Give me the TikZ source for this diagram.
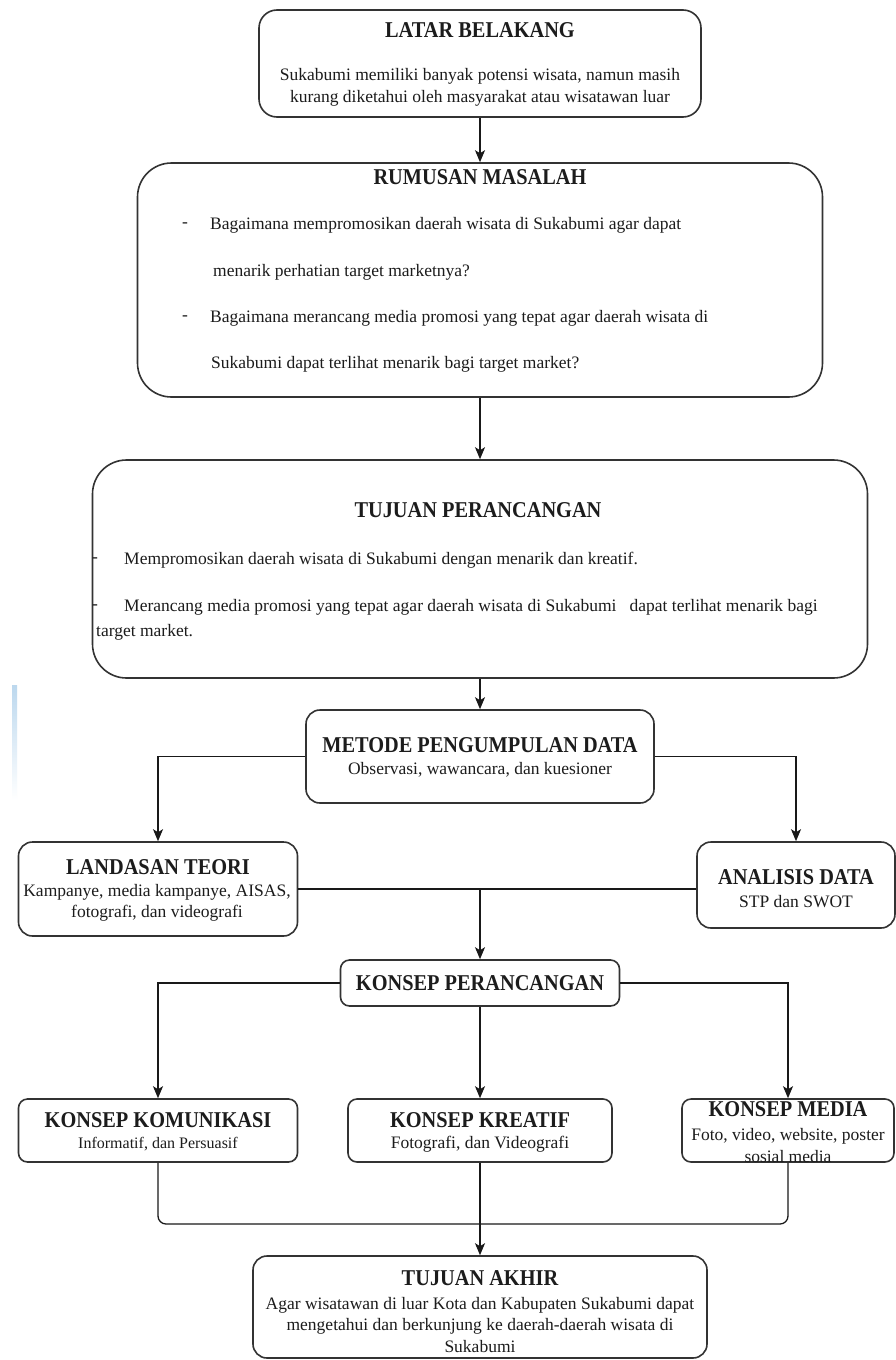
\documentclass[tikz,border=0pt]{standalone}
\usepackage{fontspec}
\setmainfont{Liberation Serif}
\newfontfamily\ttlfont{Liberation Serif}[FakeStretch=0.9]
\usetikzlibrary{arrows.meta,calc}
\definecolor{ink}{HTML}{1C1C1C}
\definecolor{edge}{HTML}{333333}
\definecolor{strip}{HTML}{BCD8EE}
\tikzset{
  box/.style={draw=edge, line width=1.6pt, fill=white, inner sep=0pt},
  ttl/.style={inner sep=0pt, text=ink, font=\ttlfont\fontsize{22.6}{26}\selectfont\bfseries},
  txt/.style={inner sep=0pt, text=ink, font=\fontsize{17.5}{22}\selectfont},
  txtc/.style={txt, align=center},
  conn/.style={draw=black!90, line width=1.3pt},
  arr/.style={conn, -{Stealth[length=12pt,width=10pt,inset=3pt]}}
}
\begin{document}
\begin{tikzpicture}[x=1pt,y=-1pt]
\useasboundingbox (0,0) rectangle (896,1360);
\fill[white] (0,0) rectangle (896,1360);
\shade[top color=strip, bottom color=white] (12,685) rectangle (17,800);

% boxes
\node[box, rounded corners=18pt, minimum width=442pt, minimum height=107pt] (lb) at (480,63.5) {};
\node[box, rounded corners=34pt, minimum width=685pt, minimum height=234pt] (rm) at (480,280) {};
\node[box, rounded corners=34pt, minimum width=775pt, minimum height=218pt] (tp) at (480,569) {};
\node[box, rounded corners=14pt, minimum width=348pt, minimum height=93pt] (md) at (480,756.5) {};
\node[box, rounded corners=14pt, minimum width=279pt, minimum height=94pt] (lt) at (158,889) {};
\node[box, rounded corners=14pt, minimum width=198pt, minimum height=86pt] (ad) at (796,885) {};
\node[box, rounded corners=9pt, minimum width=279pt, minimum height=46pt] (kp) at (480,983) {};
\node[box, rounded corners=9pt, minimum width=279pt, minimum height=63pt] (kk) at (158,1130.5) {};
\node[box, rounded corners=9pt, minimum width=264pt, minimum height=63pt] (kr) at (480,1130.5) {};
\node[box, rounded corners=9pt, minimum width=212pt, minimum height=63pt] (km) at (788,1130.5) {};
\node[box, rounded corners=14pt, minimum width=454pt, minimum height=102pt] (ta) at (480,1307) {};

% texts
\node[ttl] (lbt) at (480,30) {LATAR BELAKANG};
\node[txtc] (lbb) at (480,87) {Sukabumi memiliki banyak potensi wisata, namun masih\\kurang diketahui oleh masyarakat atau wisatawan luar};

\node[ttl] (rmt) at (480,177) {RUMUSAN MASALAH};
\node[txt] (rmd1) at (185,225) {-};
\node[txt, anchor=west] (rm1) at (210,225) {Bagaimana mempromosikan daerah wisata di Sukabumi agar dapat};
\node[txt, anchor=west] (rm2) at (213,272) {menarik perhatian target marketnya?};
\node[txt] (rmd2) at (185,318) {-};
\node[txt, anchor=west] (rm3) at (210,318) {Bagaimana merancang media promosi yang tepat agar daerah wisata di};
\node[txt, anchor=west] (rm4) at (211,364) {Sukabumi dapat terlihat menarik bagi target market?};

\node[ttl] (tpt) at (478,510) {TUJUAN PERANCANGAN};
\node[txt] (tpd1) at (95,560) {-};
\node[txt, anchor=west] (tp1) at (124,560) {Mempromosikan daerah wisata di Sukabumi dengan menarik dan kreatif.};
\node[txt] (tpd2) at (95,607) {-};
\node[txt, anchor=west] (tp2) at (124,607) {Merancang media promosi yang tepat agar daerah wisata di Sukabumi\ \ \ dapat terlihat menarik bagi};
\node[txt, anchor=west] (tp3) at (96,632) {target market.};

\node[ttl] (mdt) at (480,745) {METODE PENGUMPULAN DATA};
\node[txt] (mds) at (480,770) {Observasi, wawancara, dan kuesioner};

\node[ttl] (ltt) at (158,867) {LANDASAN TEORI};
\node[txtc, font=\fontsize{17.5}{20.5}\selectfont] (lts) at (157,903) {Kampanye, media kampanye, AISAS,\\fotografi, dan videografi};

\node[ttl] (adt) at (796,877) {ANALISIS DATA};
\node[txt] (ads) at (796,902) {STP dan SWOT};

\node[ttl] (kpt) at (480,983) {KONSEP PERANCANGAN};

\node[ttl] (kkt) at (158,1120) {KONSEP KOMUNIKASI};
\node[txt, font=\fontsize{16}{20}\selectfont] (kks) at (158,1144) {Informatif, dan Persuasif};

\node[ttl] (krt) at (480,1120) {KONSEP KREATIF};
\node[txt] (krs) at (480,1144) {Fotografi, dan Videografi};

\node[ttl] (kmt) at (788,1109) {KONSEP MEDIA};
\node[txtc] (kms) at (788,1145) {Foto, video, website, poster\\sosial media};

\node[ttl] (tat) at (480,1278) {TUJUAN AKHIR};
\node[txtc, font=\fontsize{17.5}{21.5}\selectfont] (tas) at (480,1324.5) {Agar wisatawan di luar Kota dan Kabupaten Sukabumi dapat\\mengetahui dan berkunjung ke daerah-daerah wisata di\\Sukabumi};

% connectors
\draw[arr] (lb.south) -- (rm.north);
\draw[arr] (rm.south) -- (tp.north);
\draw[arr] (tp.south) -- (md.north);
\draw[arr] (md.west) -| (lt.north);
\draw[arr] (md.east) -| (ad.north);
\coordinate (j1) at (lt.east -| kp.north);
\draw[conn] (lt.east) -- (lt.east -| ad.west);
\draw[arr] (j1) -- (kp.north);
\draw[arr] (kp.west) -| (kk.north);
\draw[arr] (kp.east) -| (km.north);
\draw[arr] (kp.south) -- (kr.north);
\coordinate (j2) at (480,1224);
\draw[conn, rounded corners=8pt] (kk.south) |- (j2) -| (km.south);
\draw[arr] (kr.south) -- (ta.north);
\end{tikzpicture}
\end{document}
